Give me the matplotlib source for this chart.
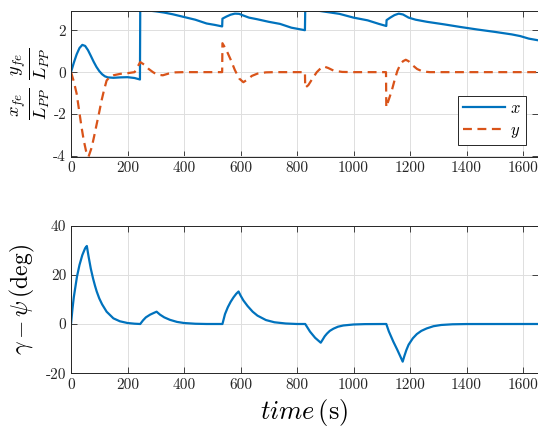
import matplotlib
matplotlib.use('Agg')
import matplotlib.pyplot as plt

plt.rcParams['mathtext.fontset'] = 'cm'
plt.rcParams['font.family'] = 'serif'
plt.rcParams['font.serif'] = ['cmr10']
plt.rcParams['axes.unicode_minus'] = False

BLUE = '#0072BD'
ORANGE = '#D95319'

# normalised position of the fore end (top panel)
t_x = [0, 10, 20, 30, 40, 50, 60, 70, 80, 90, 100, 110, 120, 130, 150, 175, 200,
       225, 244, 245, 260, 280, 300, 330, 360, 400, 440, 480, 510, 535, 536, 550,
       565, 580, 595, 610, 630, 660, 700, 740, 780, 828, 829, 850, 880, 910, 950,
       1000, 1050, 1090, 1116, 1117, 1130, 1145, 1160, 1175, 1195, 1220, 1260,
       1320, 1380, 1440, 1500, 1560, 1590, 1620, 1653]
x_fe = [0, 0.45, 0.85, 1.15, 1.3, 1.25, 1.05, 0.78, 0.5, 0.25, 0.05, -0.1, -0.2,
        -0.25, -0.27, -0.25, -0.24, -0.28, -0.35, 2.93, 2.93, 2.93, 2.9, 2.84,
        2.76, 2.63, 2.5, 2.32, 2.25, 2.18, 2.55, 2.65, 2.74, 2.79, 2.78, 2.7,
        2.6, 2.52, 2.4, 2.3, 2.12, 2.0, 2.93, 2.93, 2.92, 2.86, 2.78, 2.6, 2.47,
        2.3, 2.2, 2.48, 2.6, 2.72, 2.79, 2.75, 2.6, 2.5, 2.4, 2.28, 2.15, 2.03,
        1.92, 1.8, 1.72, 1.6, 1.52]

t_y = [0, 10, 20, 30, 37, 45, 53, 62, 73, 82, 91, 100, 108, 117, 126, 138, 150,
       175, 200, 225, 245, 260, 275, 290, 305, 325, 345, 370, 400, 535, 536, 550,
       565, 580, 595, 610, 625, 640, 660, 690, 720, 828, 829, 840, 855, 870, 885,
       895, 910, 930, 960, 1000, 1115, 1116, 1125, 1135, 1145, 1155, 1165, 1175,
       1185, 1195, 1210, 1225, 1245, 1270, 1653]
y_fe = [0, -0.45, -1.03, -1.95, -2.6, -3.25, -3.75, -4.03, -3.6, -3.05, -2.47,
        -1.9, -1.36, -0.85, -0.4, -0.22, -0.15, -0.08, -0.05, 0.0, 0.48, 0.35,
        0.15, 0.0, -0.12, -0.15, -0.07, -0.01, 0, 0, 1.38, 1.05, 0.6, 0.1, -0.3,
        -0.48, -0.35, -0.18, -0.07, -0.01, 0, 0, -0.74, -0.62, -0.3, 0.0, 0.2,
        0.27, 0.2, 0.07, 0.01, 0, 0, -1.67, -1.3, -0.9, -0.4, 0.05, 0.35, 0.52,
        0.59, 0.52, 0.32, 0.15, 0.03, 0, 0]

# gamma - psi in degrees (bottom panel)
t_g = [0, 5, 10, 21, 30, 40, 50, 56, 62, 70, 78, 85, 91, 100, 110, 126, 150, 173,
       200, 225, 245, 255, 265, 280, 295, 303, 315, 330, 350, 375, 400, 440, 480,
       536, 545, 555, 565, 575, 585, 593, 600, 610, 625, 643, 660, 690, 720, 760,
       800, 829, 846, 864, 884, 890, 898, 906, 916, 929, 945, 964, 1000, 1040,
       1116, 1125, 1141, 1155, 1165, 1174, 1180, 1187, 1195, 1210, 1224, 1240,
       1259, 1283, 1310, 1350, 1400, 1653]
gam_psi = [0, 6, 11, 19.2, 24, 28, 30.8, 31.7, 27.5, 22.5, 18.5, 15.5, 13.2,
           10.4, 8.0, 5.0, 2.3, 1.1, 0.4, 0.12, 0, 1.5, 2.7, 3.8, 4.6, 5.0, 3.8,
           2.7, 1.7, 0.85, 0.4, 0.1, 0, 0, 4.0, 6.8, 9.0, 10.8, 12.3, 13.2, 11.6,
           9.6, 7.3, 5.0, 3.4, 1.6, 0.7, 0.2, 0, 0, -3.1, -5.6, -7.6, -6.5, -5.0,
           -3.9, -2.8, -1.9, -1.1, -0.6, -0.2, -0.05, 0, -3.0, -7.2, -10.5, -13.0,
           -15.3, -13.0, -10.6, -8.4, -5.8, -4.1, -2.8, -1.8, -0.9, -0.4, -0.12,
           -0.02, 0]

xticks = [0, 200, 400, 600, 800, 1000, 1200, 1400, 1600]


def style_axes(ax):
    ax.set_xlim(0, 1653)
    ax.set_xticks(xticks)
    ax.grid(True, color='#dedede', linewidth=0.7)
    ax.set_axisbelow(True)
    ax.tick_params(direction='in', length=4, width=0.6, top=True, right=True,
                   labelsize=11, colors='#262626')
    for sp in ax.spines.values():
        sp.set_color('#262626')
        sp.set_linewidth(0.7)


fig = plt.figure(figsize=(5.38, 4.28), dpi=100)
ax1 = fig.add_axes([0.132, 0.634, 0.868, 0.341])
ax2 = fig.add_axes([0.132, 0.128, 0.868, 0.345])

ax1.plot(t_x, x_fe, color=BLUE, lw=1.6, label='$x$')
ax1.plot(t_y, y_fe, color=ORANGE, lw=1.6, ls=(0, (4, 2.5)), label='$y$')
style_axes(ax1)
ax1.set_ylim(-4.03, 2.93)
ax1.set_yticks([-4, -2, 0, 2])
ax1.set_ylabel(r'$\frac{x_{fe}}{L_{PP}}\;\frac{y_{fe}}{L_{PP}}$', fontsize=19)
ax1.yaxis.set_label_coords(-0.04, 0.5)
leg = ax1.legend(loc='lower right', bbox_to_anchor=(0.974, 0.08), borderaxespad=0,
                 fancybox=False, framealpha=1, edgecolor='#262626', fontsize=12,
                 handlelength=2.5, handletextpad=0.3, borderpad=0.3,
                 labelspacing=0.4)
leg.get_frame().set_linewidth(0.7)

ax2.plot(t_g, gam_psi, color=BLUE, lw=1.6)
style_axes(ax2)
ax2.set_ylim(-20, 40)
ax2.set_yticks([-20, 0, 20, 40])
ax2.set_ylabel(r'$\gamma-\psi\,(\mathrm{deg})$', fontsize=17)
ax2.yaxis.set_label_coords(-0.073, 0.5)
ax2.set_xlabel(r'$time\,(\mathrm{s})$', fontsize=19, labelpad=4)

fig.savefig('out.png', dpi=100)
